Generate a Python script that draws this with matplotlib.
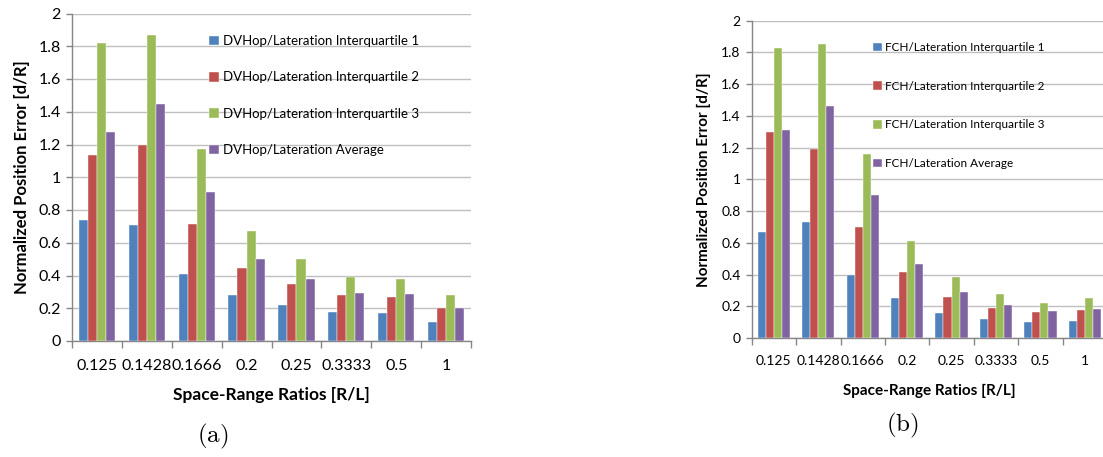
import matplotlib
matplotlib.use("Agg")
import matplotlib.pyplot as plt
import numpy as np

plt.rcParams["font.family"] = ["Lato", "DejaVu Sans"]
plt.rcParams["mathtext.fontset"] = "cm"

categories = ["0.125", "0.1428", "0.1666", "0.2", "0.25", "0.3333", "0.5", "1"]

dvhop_q1 = [0.74, 0.707, 0.407, 0.278, 0.222, 0.179, 0.173, 0.117]
dvhop_q2 = [1.138, 1.199, 0.715, 0.447, 0.348, 0.28, 0.27, 0.203]
dvhop_q3 = [1.819, 1.868, 1.173, 0.669, 0.498, 0.388, 0.38, 0.28]
dvhop_avg = [1.276, 1.445, 0.911, 0.502, 0.378, 0.293, 0.289, 0.2]

fch_q1 = [0.666, 0.731, 0.399, 0.252, 0.158, 0.121, 0.104, 0.108]
fch_q2 = [1.298, 1.191, 0.702, 0.414, 0.256, 0.19, 0.163, 0.178]
fch_q3 = [1.826, 1.851, 1.162, 0.613, 0.382, 0.28, 0.222, 0.252]
fch_avg = [1.309, 1.462, 0.903, 0.468, 0.292, 0.208, 0.169, 0.183]

series_colors = ["#4F81BD", "#C0504D", "#9BBB59", "#8064A2"]
yticks = [0, 0.2, 0.4, 0.6, 0.8, 1, 1.2, 1.4, 1.6, 1.8, 2]
ytick_labels = ["0", "0.2", "0.4", "0.6", "0.8", "1", "1.2", "1.4", "1.6", "1.8", "2"]

W, H = 1103, 457
fig = plt.figure(figsize=(W / 100, H / 100), dpi=100)


def px_axes(x0, x1, ytop, ybot):
    return fig.add_axes([x0 / W, 1 - ybot / H, (x1 - x0) / W, (ybot - ytop) / H])


def draw_panel(ax, series, labels, tick_fs, xpad, leg_fs, leg_anchor, leg_spacing):
    n = len(categories)
    x = np.arange(n)
    bw = 1 / 5.5
    handles = []
    for i, (vals, col, lab) in enumerate(zip(series, series_colors, labels)):
        b = ax.bar(x + (i - 1.5) * bw, vals, width=bw, color=col,
                   edgecolor="white", linewidth=0.3, label=lab, zorder=3)
        handles.append(b)
    ax.set_xlim(-0.5, n - 0.5)
    ax.set_ylim(0, 2)
    ax.set_yticks(yticks)
    ax.set_yticklabels(ytick_labels, fontsize=tick_fs)
    ax.set_xticks(x)
    ax.set_xticklabels(categories, fontsize=tick_fs)
    ax.set_xticks(np.arange(n + 1) - 0.5, minor=True)
    ax.tick_params(axis="x", which="major", length=0, pad=xpad)
    ax.tick_params(axis="x", which="minor", length=5, color="#868686", width=1)
    ax.tick_params(axis="y", length=4, color="#868686", width=1, pad=4)
    ax.yaxis.grid(True, color="#BFBFBF", linewidth=1, zorder=0)
    ax.set_axisbelow(True)
    for s in ["top", "right"]:
        ax.spines[s].set_visible(False)
    for s in ["left", "bottom"]:
        ax.spines[s].set_color("#868686")
        ax.spines[s].set_linewidth(1)
    leg = ax.legend(handles=handles, loc="upper left", bbox_to_anchor=leg_anchor,
                    bbox_transform=fig.transFigure, frameon=False,
                    fontsize=leg_fs, handlelength=0.75, handleheight=0.75,
                    handletextpad=0.3, labelspacing=leg_spacing,
                    borderaxespad=0, borderpad=0)
    return leg


ax_a = px_axes(72, 471, 13.5, 341)
draw_panel(ax_a, [dvhop_q1, dvhop_q2, dvhop_q3, dvhop_avg],
           ["DVHop/Lateration Interquartile 1", "DVHop/Lateration Interquartile 2",
            "DVHop/Lateration Interquartile 3", "DVHop/Lateration Average"],
           11.5, 13, 9.5, (209 / W, 1 - 35 / H), 1.85)
ax_a.set_ylabel("Normalized Position Error [d/R]", fontsize=12, fontweight="bold", labelpad=6)
ax_a.set_xlabel("Space-Range Ratios [R/L]", fontsize=12.5, fontweight="bold", labelpad=10)

ax_b = px_axes(751.7, 1107, 20.7, 338)
draw_panel(ax_b, [fch_q1, fch_q2, fch_q3, fch_avg],
           ["FCH/Lateration Interquartile 1", "FCH/Lateration Interquartile 2",
            "FCH/Lateration Interquartile 3", "FCH/Lateration Average"],
           10, 12.5, 8.5, (873 / W, 1 - 42 / H), 2.35)
ax_b.set_ylabel("Normalized Position Error [d/R]", fontsize=11, fontweight="bold", labelpad=7)
ax_b.set_xlabel("Space-Range Ratios [R/L]", fontsize=11, fontweight="bold", labelpad=12)

fig.text(213 / W, 1 - 436 / H, r"$\mathrm{(a)}$", fontsize=18, ha="center", va="center")
fig.text(902 / W, 1 - 425 / H, r"$\mathrm{(b)}$", fontsize=18, ha="center", va="center")

fig.savefig("out.png", dpi=100, facecolor="white")
